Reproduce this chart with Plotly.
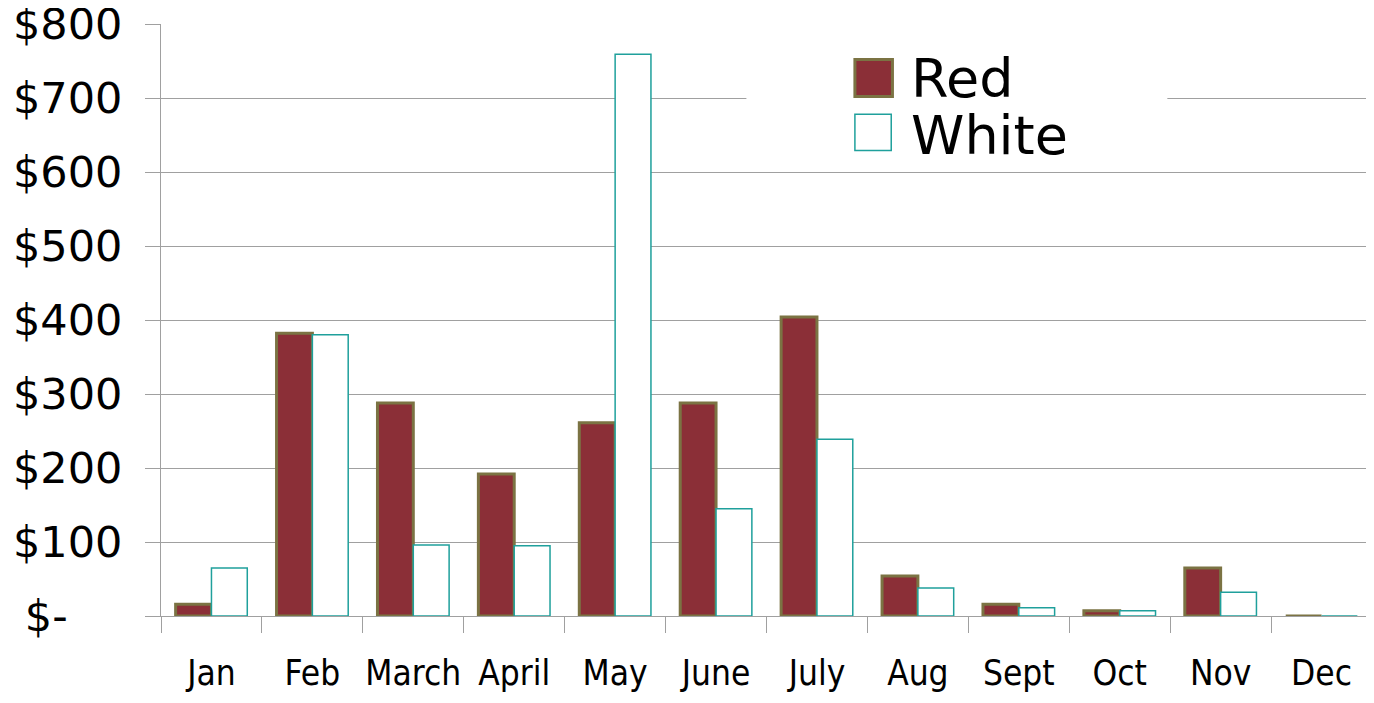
import plotly.graph_objects as go

months = ["Jan", "Feb", "March", "April", "May", "June", "July", "Aug", "Sept", "Oct", "Nov", "Dec"]
red_values = [16, 382, 288, 192, 261, 288, 404, 54, 16, 7, 65, 0]
white_values = [65, 380, 96, 95, 759, 145, 239, 38, 11, 7, 32, 0]
y_tick_values = [0, 100, 200, 300, 400, 500, 600, 700, 800]
y_tick_labels = ["$-\u00a0\u00a0\u00a0\u00a0", "$100", "$200", "$300", "$400", "$500", "$600", "$700", "$800"]

RED = "#8B2F37"
OLIVE = "#7B7343"
TEAL = "#1FA09C"
GRID = "#A0A0A0"

fig = go.Figure()
fig.add_trace(go.Bar(x=months, y=red_values, name="Red",
                     marker=dict(color=RED, line=dict(color=OLIVE, width=3))))
fig.add_trace(go.Bar(x=months, y=white_values, name="White",
                     marker=dict(color="white", line=dict(color=TEAL, width=1.5))))

# white box behind the legend (hides gridline)
fig.add_shape(type="rect", xref="paper", yref="y", x0=0.4834, x1=0.831, y0=640, y1=765,
              fillcolor="white", line=dict(width=0), layer="above")
# legend swatches
fig.add_shape(type="rect", xref="paper", yref="y", x0=0.573, x1=0.604, y0=702, y1=752,
              fillcolor=RED, line=dict(color=OLIVE, width=3), layer="above")
fig.add_shape(type="rect", xref="paper", yref="y", x0=0.573, x1=0.603, y0=629, y1=678,
              fillcolor="white", line=dict(color=TEAL, width=1.5), layer="above")
fig.add_annotation(xref="paper", yref="y", x=0.618, y=727, text="Red", showarrow=False,
                   xanchor="left", yanchor="middle", font=dict(family="DejaVu Sans", size=54, color="black"))
fig.add_annotation(xref="paper", yref="y", x=0.618, y=650, text="White", showarrow=False,
                   xanchor="left", yanchor="middle", font=dict(family="DejaVu Sans", size=54, color="black"))

fig.update_layout(
    width=1374, height=703,
    margin=dict(l=153, r=10, t=16, b=95),
    paper_bgcolor="white", plot_bgcolor="white",
    barmode="group", bargap=0.29, bargroupgap=0,
    showlegend=False,
)
fig.update_xaxes(
    type="category", tickson="boundaries", ticks="outside", ticklen=16, tickcolor=GRID, tickwidth=1,
    showline=True, linecolor=GRID, linewidth=1, showgrid=False, automargin=False, tickangle=0,
    tickfont=dict(family="DejaVu Sans Condensed, Liberation Sans Narrow, Liberation Sans, sans-serif", size=35, color="black"),
    ticklabelstandoff=26, ticklabeloverflow="allow",
)
fig.update_yaxes(
    range=[0, 800], tickvals=y_tick_values, ticktext=y_tick_labels,
    ticks="outside", ticklen=15, tickcolor=GRID, tickwidth=1,
    showline=True, linecolor=GRID, linewidth=1, automargin=False,
    showgrid=True, gridcolor=GRID, gridwidth=1, zeroline=False,
    tickfont=dict(family="DejaVu Sans", size=43, color="black"),
    ticklabelstandoff=14, ticklabeloverflow="allow",
)

fig.write_html("out.html")
